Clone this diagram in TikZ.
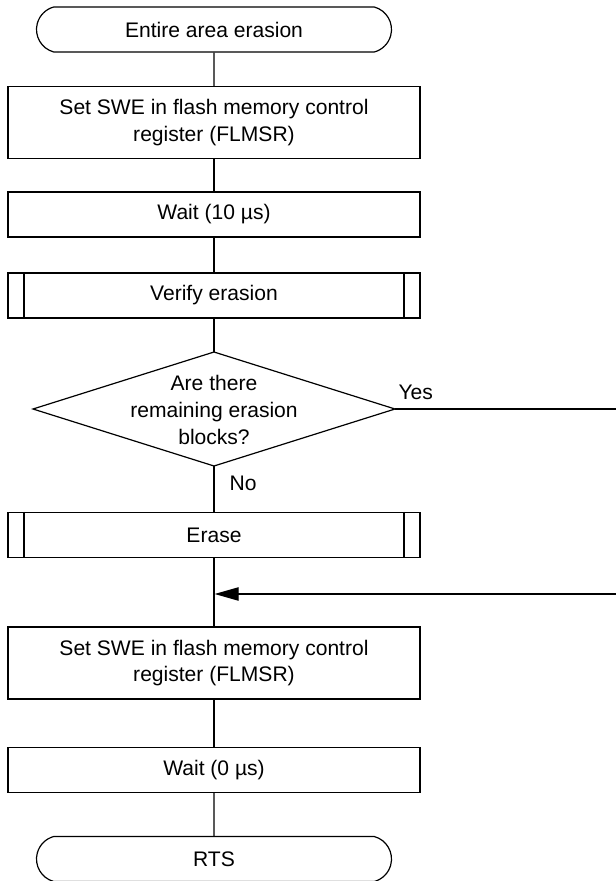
\documentclass[tikz,border=0pt]{standalone}
\usepackage{fontspec}
\setmainfont{Liberation Sans}
\usetikzlibrary{shapes.misc,arrows.meta}
\begin{document}
\begin{tikzpicture}[x=0.75pt,y=-0.75pt,
  line width=0.9pt,
  every node/.style={font=\fontsize{15.8pt}{20pt}\selectfont},
  term/.style={draw,rounded rectangle,rounded rectangle arc length=150,minimum width=266.25pt,minimum height=33.75pt,inner sep=0pt},
  proc/.style={draw,rectangle,minimum width=309pt,minimum height=33.75pt,inner sep=0pt,align=center},
  proc2/.style={proc,minimum height=54pt},
  lbl/.style={inner sep=0pt,anchor=base west}]
\useasboundingbox (0,0) rectangle (615,881);
\node[term] (start) at (214,29.5) {Entire area erasion};
\node[proc2] (swe1) at (214,122.5) {Set SWE in flash memory control\\register (FLMSR)};
\node[proc] (wait1) at (214,214.5) {Wait (10 µs)};
\node[proc] (ver) at (214,295.5) {Verify erasion};
\draw ([xshift=12.4pt]ver.north west) -- ([xshift=12.4pt]ver.south west);
\draw ([xshift=-12.4pt]ver.north east) -- ([xshift=-12.4pt]ver.south east);
\coordinate (dT) at (214,352);
\coordinate (dB) at (214,466);
\coordinate (dL) at (33,409);
\coordinate (dR) at (395,409);
\draw (dT) -- (dR) -- (dB) -- (dL) -- cycle;
\node[align=center,inner sep=0pt] (dec) at (214,410) {Are there\\remaining erasion\\blocks?};
\node[proc] (erase) at (214,535) {Erase};
\draw ([xshift=12.4pt]erase.north west) -- ([xshift=12.4pt]erase.south west);
\draw ([xshift=-12.4pt]erase.north east) -- ([xshift=-12.4pt]erase.south east);
\node[proc2] (swe2) at (214,663) {Set SWE in flash memory control\\register (FLMSR)};
\node[proc] (wait2) at (214,770) {Wait (0 µs)};
\node[term] (rts) at (214,859) {RTS};
\coordinate (join) at (214.6,594);
\coordinate (yesEnd) at (616,409);
\coordinate (retEnd) at (616,594);
\draw (start) -- (swe1);
\draw (swe1) -- (wait1);
\draw (wait1) -- (ver);
\draw (ver) -- (dT);
\draw (dB) -- (erase);
\draw (erase) -- (swe2);
\draw (swe2) -- (wait2);
\draw (wait2) -- (rts);
\draw (dR) -- (yesEnd);
\draw[-{Triangle[length=18pt,width=10pt]}] (retEnd) -- (join);
\node[lbl] (yes) at (398,399) {Yes};
\node[lbl] (no) at (229,490) {No};
\end{tikzpicture}
\end{document}
